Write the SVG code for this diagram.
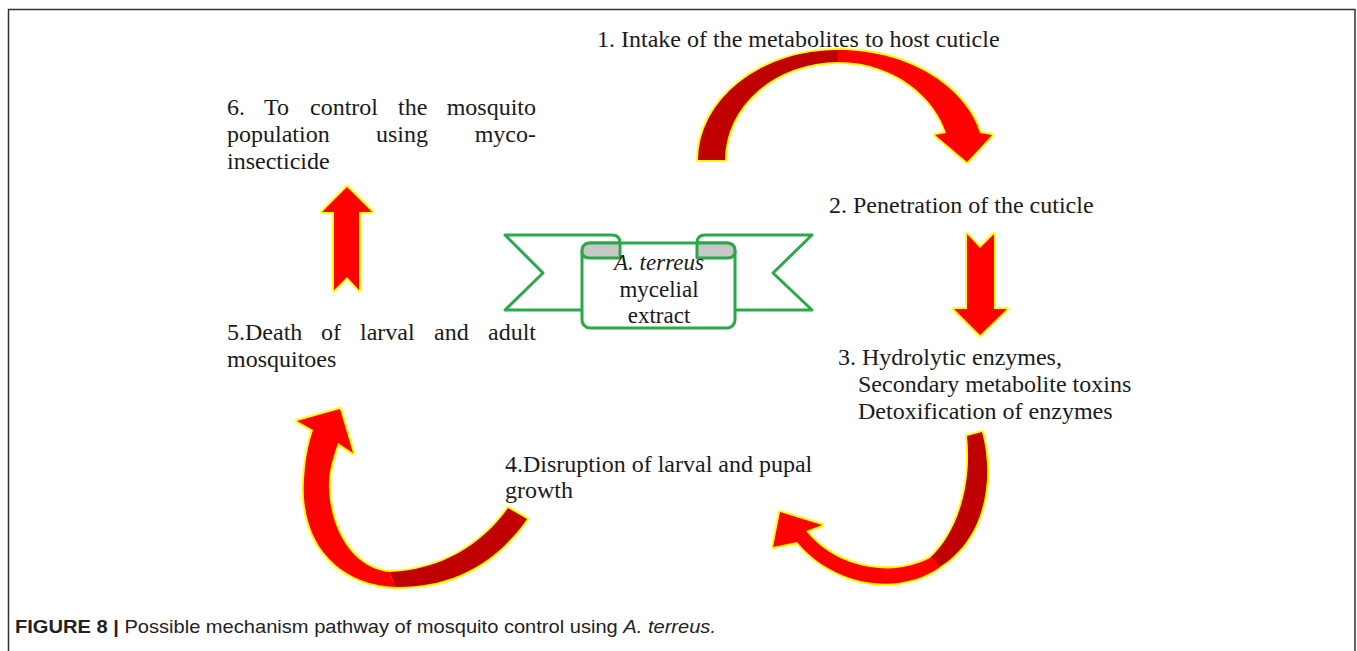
<svg xmlns="http://www.w3.org/2000/svg" width="1357" height="651" viewBox="0 0 1357 651">
<style>
.t{font-family:"Liberation Serif","Times New Roman",serif;font-size:24px;fill:#1a1a1a}
.p{font-family:"Liberation Serif","Times New Roman",serif;font-size:23px;fill:#1a1a1a;text-anchor:middle}
.sk{fill:#ffff00;stroke:#ffff00;stroke-width:4;stroke-linejoin:round}
.dk{fill:#c00000}
.br{fill:#ff0000}
.rb{fill:#ffffff;stroke:#2aa84a;stroke-width:3;stroke-linejoin:round}
.fold{fill:#c8c8c8;stroke:#2aa84a;stroke-width:3;stroke-linejoin:round}
.cap{font-family:"Liberation Sans",Arial,sans-serif;font-size:19px;fill:#222}
</style>
<defs>
<path id="a1d" d="M698,160 A140,110 0 0 1 838,50 L838,62 A113,98 0 0 0 725,160 Z"/>
<path id="a1b" d="M838,50 C915,50 968,92 980,133 L992,135 L967,162 L935,135 L946,133 C935,98 895,62 838,62 Z"/>
<path id="a2" d="M967,234 L980,248 L994,234 L994,309 L1007,309 L980,335 L954,309 L967,309 Z"/>
<path id="a3d" d="M967,436 L982,432 C995,480 985,540 938,568 L930,558 C960,530 972,480 967,436 Z"/>
<path id="a3b" d="M940,567 C915,585 880,588 850,578 C830,571 812,560 797,542 L773,547 L780,512 L822,525 L806,531 C820,548 840,562 870,567 C895,571 915,566 932,557 Z"/>
<path id="a4b" d="M395,587 C335,584 300,540 304,480 C305,460 308,445 313,430 L297,421 L340,409 L353,453 L338,443 C332,460 328,475 329,490 C332,540 360,570 390,572 Z"/>
<path id="a4d" d="M527,519 C495,565 450,588 395,587 L390,572 C440,570 482,545 508,508 Z"/>
<path id="a5" d="M347,187 L372,212 L359,212 L359,290 L347,277 L334,290 L334,212 L322,212 Z"/>
</defs>
<rect width="1357" height="651" fill="#ffffff"/>
<g id="frame" stroke="#333" stroke-width="1.5" fill="none">
<path d="M8.5,651 L8.5,9.5 L1355,9.5 L1355,651"/>
</g>
<g id="connectors">
<use href="#a1d" class="sk"/><use href="#a1b" class="sk"/>
<use href="#a1d" class="dk"/><use href="#a1b" class="br"/>
<use href="#a2" class="sk"/><use href="#a2" class="br"/>
<use href="#a3d" class="sk"/><use href="#a3b" class="sk"/>
<use href="#a3d" class="dk"/><use href="#a3b" class="br"/>
<use href="#a4b" class="sk"/><use href="#a4d" class="sk"/>
<use href="#a4b" class="br"/><use href="#a4d" class="dk"/>
<use href="#a5" class="sk"/><use href="#a5" class="br"/>
</g>
<g id="center">
<path class="rb" d="M582,310 L505,310 L543,273 L505,235 L612,235 Q620,235 620,243 L620,258"/>
<path class="rb" d="M735,310 L812,310 L773,273 L812,235 L705,235 Q697,235 697,243 L697,258"/>
<rect class="rb" x="582" y="243" width="153" height="85" rx="8"/>
<path class="fold" d="M582,251 Q582,243 590,243 L620,243 L620,258 L590,258 Q582,258 582,251 Z"/>
<path class="fold" d="M735,251 Q735,243 727,243 L697,243 L697,258 L727,258 Q735,258 735,251 Z"/>
<text class="p" x="659" y="270" font-style="italic">A. terreus</text>
<text class="p" x="659" y="297">mycelial</text>
<text class="p" x="659" y="323">extract</text>
</g>
<g id="n1"><text class="t" x="597" y="47">1. Intake of the metabolites to host cuticle</text></g>
<g id="n2"><text class="t" x="829" y="213">2. Penetration of the cuticle</text></g>
<g id="n3">
<text class="t" x="838" y="365">3. Hydrolytic enzymes,</text>
<text class="t" x="858" y="392">Secondary metabolite toxins</text>
<text class="t" x="858" y="419">Detoxification of enzymes</text>
</g>
<g id="n4">
<text class="t" x="505" y="472">4.Disruption of larval and pupal</text>
<text class="t" x="505" y="498">growth</text>
</g>
<g id="n5">
<text class="t" y="340"><tspan x="227">5.Death</tspan><tspan x="321">of</tspan><tspan x="360">larval</tspan><tspan x="434">and</tspan><tspan x="536" text-anchor="end">adult</tspan></text>
<text class="t" x="227" y="367">mosquitoes</text>
</g>
<g id="n6">
<text class="t" y="115"><tspan x="227">6.</tspan><tspan x="264">To</tspan><tspan x="310">control</tspan><tspan x="398">the</tspan><tspan x="536" text-anchor="end">mosquito</tspan></text>
<text class="t" y="142"><tspan x="227">population</tspan><tspan x="376">using</tspan><tspan x="536" text-anchor="end">myco-</tspan></text>
<text class="t" x="227" y="169">insecticide</text>
</g>
<g id="caption">
<text class="cap" x="15" y="633" textLength="701" lengthAdjust="spacingAndGlyphs"><tspan font-weight="bold">FIGURE 8 |</tspan> Possible mechanism pathway of mosquito control using <tspan font-style="italic">A. terreus.</tspan></text>
</g>
</svg>
